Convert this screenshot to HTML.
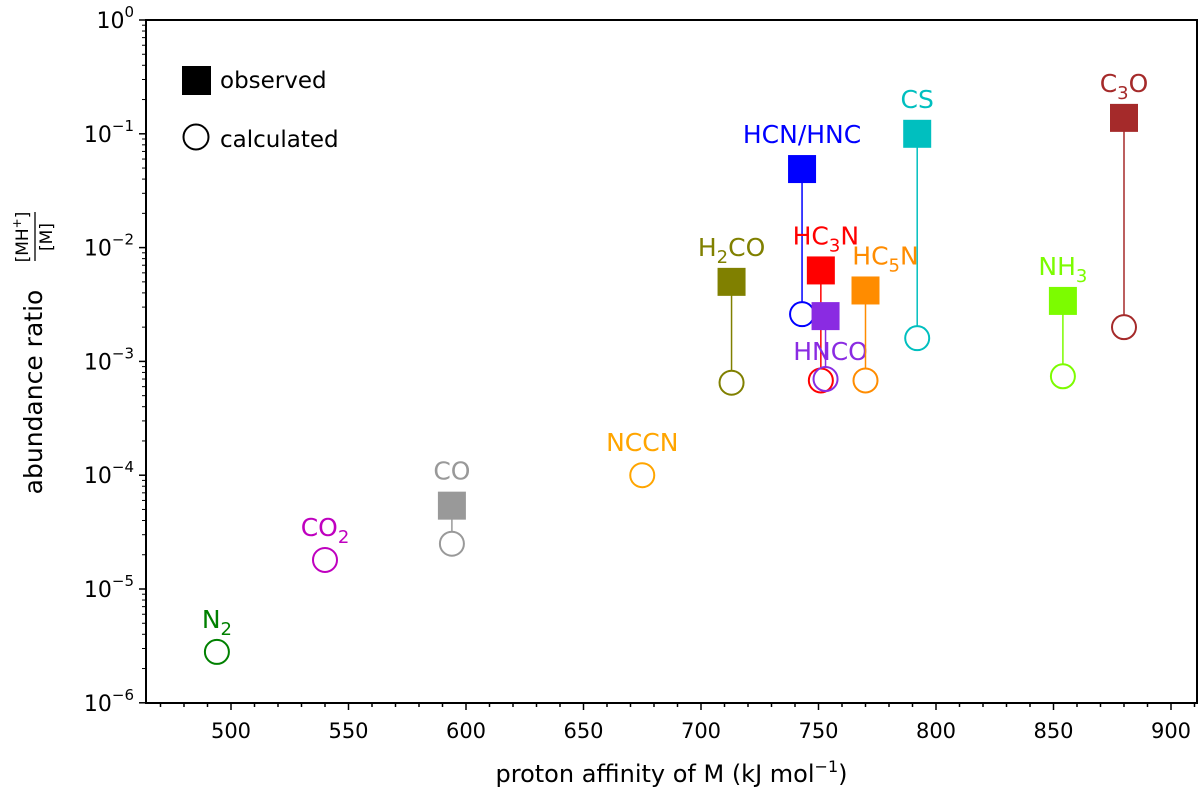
<!DOCTYPE html>
<html><head><meta charset="utf-8"><style>
html,body{margin:0;padding:0;background:#fff;}
svg text{font-family:"DejaVu Sans","Liberation Sans",sans-serif;}
</style></head><body>
<svg id="chart" width="1200" height="797" xmlns="http://www.w3.org/2000/svg">
<g id="plot"></g>
</svg>
<script>
const names=["N2","CO2","CO","NCCN","H2CO","HCN/HNC","HC3N","HNCO","HC5N","CS","NH3","C3O"];
const labels=["N<tspan dy='7' font-size='18'>2</tspan>","CO<tspan dy='7' font-size='18'>2</tspan>","CO","NCCN","H<tspan dy='7' font-size='18'>2</tspan><tspan dy='-7'>CO</tspan>","HCN/HNC","HC<tspan dy='7' font-size='18'>3</tspan><tspan dy='-7'>N</tspan>","HNCO","HC<tspan dy='7' font-size='18'>5</tspan><tspan dy='-7'>N</tspan>","CS","NH<tspan dy='7' font-size='18'>3</tspan>","C<tspan dy='7' font-size='18'>3</tspan><tspan dy='-7'>O</tspan>"];
const protonAffinity=[494,540,594,675,713,743,751,753,770,792,854,880];
const observed=[null,null,5.4e-5,null,5.0e-3,0.049,6.3e-3,2.5e-3,4.2e-3,0.10,3.4e-3,0.138];
const calculated=[2.8e-6,1.8e-5,2.5e-5,1.0e-4,6.5e-4,2.6e-3,6.8e-4,7.0e-4,6.8e-4,1.6e-3,7.4e-4,2.0e-3];
const colors=["#008000","#bf00bf","#999999","#ffa500","#808000","#0000ff","#ff0000","#8a2be2","#ff8c00","#00bfbf","#7cfc00","#a52a2a"];
const xTicks=[500,550,600,650,700,750,800,850,900];
const yTickExps=[0,-1,-2,-3,-4,-5,-6];

const L=146,R=1197,T=20,B=703;
function X(v){return 231+(v-500)*2.35;}
function Y(v){return T+(-Math.log10(v))*113.8;}
const NS="http://www.w3.org/2000/svg";
const g=document.getElementById('plot');
function mk(tag,attrs,parent){const e=document.createElementNS(NS,tag);for(const k in attrs)e.setAttribute(k,attrs[k]);(parent||g).appendChild(e);return e;}

const frame=mk('rect',{x:L,y:T,width:R-L,height:B-T,fill:'none',stroke:'#000','stroke-width':2});



for(let v=470;v<=910;v+=10){
  const major=v%50===0;
  const t=mk('line',{x1:X(v),x2:X(v),y1:B,y2:B+(major?7:4),stroke:'#000','stroke-width':1.5});
  
  
}
xTicks.forEach(v=>{
  const t=mk('text',{x:X(v),y:B+35,'text-anchor':'middle','font-size':21});
  t.textContent=v;
  
  
});
yTickExps.forEach(e=>{
  const y=Y(Math.pow(10,e));
  const t=mk('line',{x1:L-7,x2:L,y1:y,y2:y,stroke:'#000','stroke-width':1.5});
  
  
  const tx=mk('text',{x:L-12,y:y+8,'text-anchor':'end','font-size':22});
  tx.innerHTML="10<tspan dy='-11' font-size='15'>"+(e<0?"\u2212"+(-e):e)+"</tspan>";
  
  
  if(e>-6){for(let m=2;m<=9;m++){
    const ym=Y(m*Math.pow(10,e-1));
    const mt=mk('line',{x1:L-4,x2:L,y1:ym,y2:ym,stroke:'#000','stroke-width':1});
    
    
  }}
});
const xt=mk('text',{x:(L+R)/2,y:782,'text-anchor':'middle','font-size':24});
xt.innerHTML="proton affinity of M (kJ mol<tspan dy='-10' font-size='16'>\u22121</tspan><tspan dy='10'>)</tspan>";


const yt=mk('g',{transform:'translate(42,362) rotate(-90)'});


mk('text',{x:-30,y:0,'text-anchor':'middle','font-size':25},yt).textContent="abundance ratio";
const nume=mk('text',{x:125,y:-14,'text-anchor':'middle','font-size':17},yt);nume.innerHTML="[MH<tspan dy='-7' font-size='12'>+</tspan><tspan dy='7'>]</tspan>";
mk('line',{x1:101,x2:150,y1:-7,y2:-7,stroke:'#000','stroke-width':1.3},yt);
mk('text',{x:125,y:10,'text-anchor':'middle','font-size':17},yt).textContent="[M]";

names.forEach((n,i)=>{
  const x=X(protonAffinity[i]),c=colors[i];
  const yc=Y(calculated[i]);
  const grp=mk('g',{});
  
  
  let topY=yc-12;
  if(observed[i]!==null){
    const yo=Y(observed[i]);
    const ln=mk('line',{x1:x,x2:x,y1:yo,y2:yc-12,stroke:c,'stroke-width':1.5},grp);
    
    
    const sq=mk('rect',{x:x-14,y:yo-14,width:28,height:28,fill:c},grp);
    
    
    topY=yo-14;
  }
  const ci=mk('circle',{cx:x,cy:yc,r:12,fill:'none',stroke:c,'stroke-width':2},grp);
  
  
  let lx=x,ly=topY-12;
  if(n==="HNCO"){lx=x+5;ly=yc-19;}
  if(n==="HC3N"){lx=x+5;}
  if(n==="HC5N"){lx=x+20;}
  const lb=mk('text',{x:lx,y:ly,'text-anchor':'middle','font-size':25,fill:c},grp);
  lb.innerHTML=labels[i];
  
  
});

const lg=mk('g',{});


const ls=mk('rect',{x:182,y:66,width:29,height:29,fill:'#000'},lg);


const lt1=mk('text',{x:220,y:88,'font-size':23},lg);lt1.textContent="observed";


const lc=mk('circle',{cx:196,cy:137,r:12.5,fill:'none',stroke:'#000','stroke-width':2},lg);


const lt2=mk('text',{x:220,y:147,'font-size':23},lg);lt2.textContent="calculated";


</script>
</body></html>
